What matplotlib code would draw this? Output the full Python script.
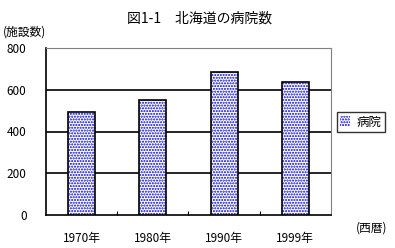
import matplotlib
matplotlib.use("Agg")
import matplotlib.pyplot as plt
from matplotlib.patches import Patch

plt.rcParams['font.family'] = ['Noto Sans CJK JP', 'DejaVu Sans']
plt.rcParams['hatch.linewidth'] = 1.0

years = ["1970年", "1980年", "1990年", "1999年"]
hospitals = [495, 549, 683, 637]
yticks = [0, 200, 400, 600, 800]

fig = plt.figure(figsize=(3.95, 2.48), dpi=100)
ax = fig.add_axes([46/395, 33/248, 285/395, 167/248])

x = range(len(years))
ax.bar(x, hospitals, width=0.38, color="white", edgecolor="#0000cc",
       hatch="......", linewidth=0, zorder=3)
ax.bar(x, hospitals, width=0.38, fill=False, edgecolor="black",
       linewidth=1.2, zorder=4)

ax.set_xlim(-0.5, len(years) - 0.5)
ax.set_ylim(0, 800)
ax.set_yticks(yticks)
ax.set_yticklabels([str(v) for v in yticks], fontsize=8.5)
for v in yticks[1:-1]:
    ax.axhline(v, color="black", linewidth=1.2, zorder=1)

ax.set_xticks([i + 0.5 for i in range(len(years) - 1)])
ax.set_xticklabels([])
ax.set_xticks(list(x), minor=True)
ax.set_xticklabels(years, minor=True, fontsize=8.5)
ax.tick_params(axis="x", which="major", direction="in", length=3, color="black")
ax.tick_params(axis="x", which="minor", length=0, pad=12)
ax.tick_params(axis="y", length=0, pad=14)

ax.spines["left"].set_color("black")
ax.spines["bottom"].set_color("black")
ax.spines["left"].set_linewidth(1.2)
ax.spines["bottom"].set_linewidth(1.2)
ax.spines["top"].set_color("#808080")
ax.spines["right"].set_color("#808080")

fig.text(200/395, 1 - 19/248, "図1-1　北海道の病院数", ha="center", va="center", fontsize=10)
fig.text(3/395, 1 - 32/248, "(施設数)", ha="left", va="center", fontsize=8.5)
fig.text(372/395, 1 - 228/248, "(西暦)", ha="center", va="center", fontsize=8.5)

handle = Patch(facecolor="white", edgecolor="#0000cc", hatch="......", linewidth=0)
leg = fig.legend([handle], ["病院"], loc="center", bbox_to_anchor=(361/395, 1 - 122/248),
                 fontsize=9, frameon=True, fancybox=False, edgecolor="black",
                 handlelength=0.8, handleheight=0.8, handletextpad=0.5,
                 borderpad=0.3, borderaxespad=0)
leg.get_frame().set_linewidth(1.0)

fig.savefig("out.png", dpi=100)
